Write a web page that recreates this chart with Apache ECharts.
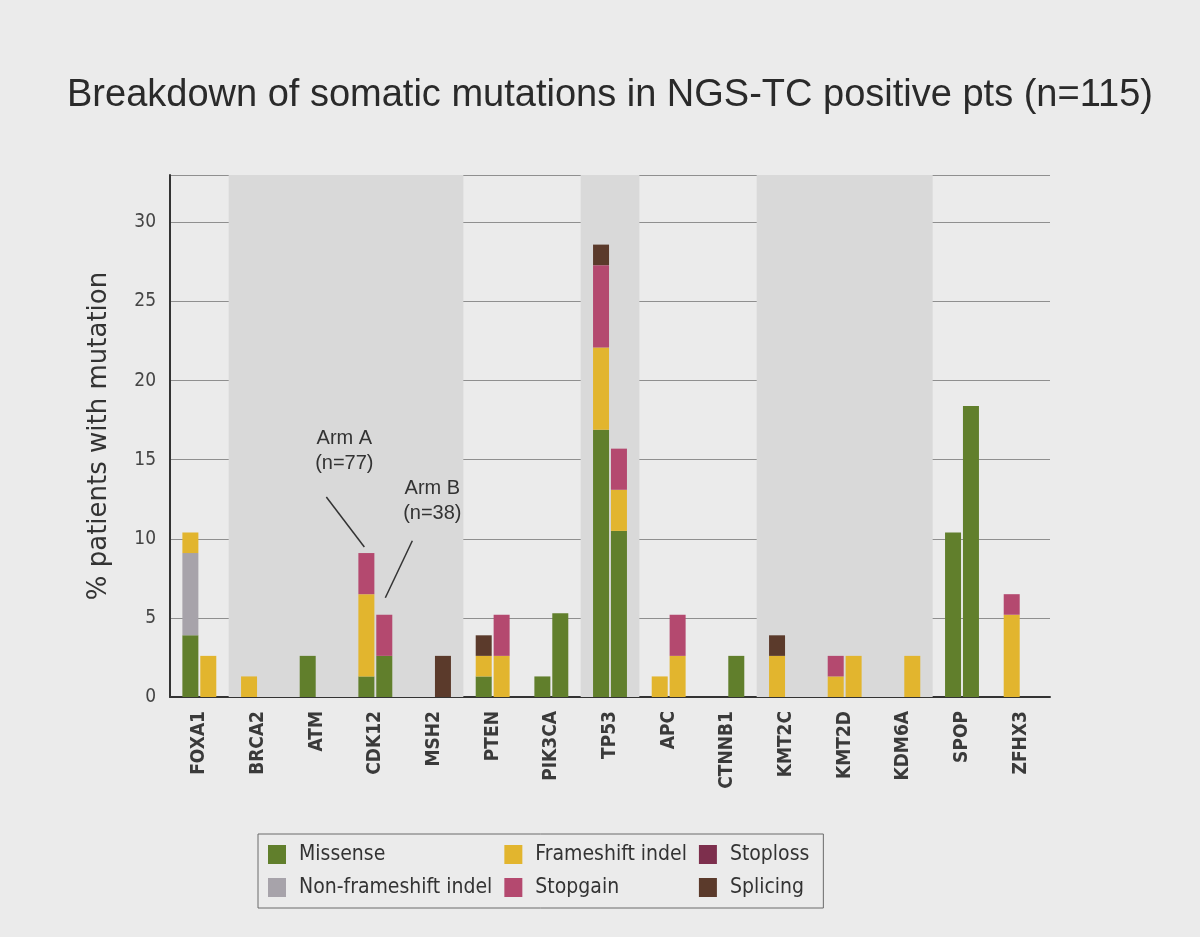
<!DOCTYPE html>
<html>
<head>
<meta charset="utf-8">
<script src="https://cdn.jsdelivr.net/npm/echarts@6/dist/echarts.min.js"></script>
<style>
  html, body { margin: 0; padding: 0; background: #ebebeb; }
  #chart { width: 1200px; height: 937px; }
</style>
</head>
<body>
<div id="chart"></div>
<script>
// genes on the x axis
var genes = ['FOXA1', 'BRCA2', 'ATM', 'CDK12', 'MSH2', 'PTEN', 'PIK3CA', 'TP53',
             'APC', 'CTNNB1', 'KMT2C', 'KMT2D', 'KDM6A', 'SPOP', 'ZFHX3'];

var mutationTypes = ['Missense', 'Non-frameshift indel', 'Frameshift indel', 'Stopgain', 'Stoploss', 'Splicing'];
var typeColors = ['#617f2c', '#a7a3aa', '#e2b52e', '#b4496f', '#7d2f4d', '#5b3a2b'];

// Arm A (n=77), % of patients
var missenseA    = [3.9, 0, 2.6, 1.3, 0, 1.3, 1.3, 16.9, 0, 0, 0, 0, 0, 10.4, 0];
var nonFrameA    = [5.2, 0, 0, 0, 0, 0, 0, 0, 0, 0, 0, 0, 0, 0, 0];
var frameshiftA  = [1.3, 1.3, 0, 5.2, 0, 1.3, 0, 5.2, 1.3, 0, 2.6, 1.3, 0, 0, 5.2];
var stopgainA    = [0, 0, 0, 2.6, 0, 0, 0, 5.2, 0, 0, 0, 1.3, 0, 0, 1.3];
var stoplossA    = [0, 0, 0, 0, 0, 0, 0, 0, 0, 0, 0, 0, 0, 0, 0];
var splicingA    = [0, 0, 0, 0, 0, 1.3, 0, 1.3, 0, 0, 1.3, 0, 0, 0, 0];

// Arm B (n=38), % of patients
var missenseB    = [0, 0, 0, 2.6, 0, 0, 5.3, 10.5, 0, 2.6, 0, 0, 0, 18.4, 0];
var nonFrameB    = [0, 0, 0, 0, 0, 0, 0, 0, 0, 0, 0, 0, 0, 0, 0];
var frameshiftB  = [2.6, 0, 0, 0, 0, 2.6, 0, 2.6, 2.6, 0, 0, 2.6, 2.6, 0, 0];
var stopgainB    = [0, 0, 0, 2.6, 0, 2.6, 0, 2.6, 2.6, 0, 0, 0, 0, 0, 0];
var stoplossB    = [0, 0, 0, 0, 0, 0, 0, 0, 0, 0, 0, 0, 0, 0, 0];
var splicingB    = [0, 0, 0, 0, 2.6, 0, 0, 0, 0, 0, 0, 0, 0, 0, 0];

// shaded gene groups, [first index, last index + 1]
var shadedBands = [[1, 5], [7, 8], [10, 13]];

var armA = [missenseA, nonFrameA, frameshiftA, stopgainA, stoplossA, splicingA];
var armB = [missenseB, nonFrameB, frameshiftB, stopgainB, stoplossB, splicingB];

var condensed = '"DejaVu Sans Condensed", "DejaVu Sans"';

function clean(arr) {
    return arr.map(function (v) { return v > 0 ? v : '-'; });
}

var chart = echarts.init(document.getElementById('chart'));

var series = [];
// hidden helper series that carries the grey background bands
series.push({
    type: 'line',
    xAxisIndex: 1,
    data: [],
    silent: true,
    z: 0,
    markArea: {
        silent: true,
        itemStyle: { color: '#d9d9d9' },
        data: shadedBands.map(function (b) { return [{ xAxis: b[0] }, { xAxis: b[1] }]; })
    }
});
for (var i = 0; i < mutationTypes.length; i++) {
    series.push({
        name: mutationTypes[i], type: 'bar', stack: 'A', z: 3,
        barWidth: 16, barGap: '12%',
        itemStyle: { color: typeColors[i] },
        data: clean(armA[i])
    });
}
for (var j = 0; j < mutationTypes.length; j++) {
    series.push({
        name: mutationTypes[j], type: 'bar', stack: 'B', z: 3,
        barWidth: 16, barGap: '12%',
        itemStyle: { color: typeColors[j] },
        data: clean(armB[j])
    });
}

var option = {
    backgroundColor: '#ebebeb',
    textStyle: { fontFamily: 'DejaVu Sans' },
    animation: false,
    title: {
        text: 'Breakdown of somatic mutations in NGS-TC positive pts (n=115)',
        left: 62, top: 72,
        textStyle: { fontFamily: 'Liberation Sans', fontSize: 38, fontWeight: 'normal', color: '#2a2a2a' }
    },
    grid: { left: 170, right: 150, top: 175, bottom: 240 },
    legend: {
        data: mutationTypes,
        orient: 'vertical',
        left: 258, top: 834,
        height: 58,
        itemWidth: 18, itemHeight: 19, itemGap: 12,
        padding: [10, 14, 10, 10],
        borderColor: '#6a6a6a', borderWidth: 1,
        icon: 'rect',
        textStyle: { fontSize: 21, color: '#333', fontFamily: condensed, padding: [0, 0, 0, 8] }
    },
    xAxis: [{
        type: 'category',
        data: genes,
        axisLine: { lineStyle: { color: '#333', width: 2 } },
        axisTick: { show: false },
        axisLabel: { rotate: 90, fontSize: 19, fontWeight: 'bold', fontFamily: condensed, color: '#3a3a3a', margin: 14 }
    }, {
        type: 'value', min: 0, max: genes.length, show: false
    }],
    yAxis: {
        type: 'value', min: 0, max: 33, interval: 5,
        name: '% patients with mutation',
        nameLocation: 'middle', nameGap: 58,
        nameTextStyle: { fontSize: 26, color: '#333' },
        axisLine: { show: true, lineStyle: { color: '#333', width: 2 } },
        axisTick: { show: false },
        axisLabel: { fontSize: 19, color: '#444', margin: 14, showMaxLabel: false, fontFamily: condensed },
        splitLine: { lineStyle: { color: '#8f8f8f', width: 1 } }
    },
    series: series
};
chart.setOption(option);

// annotation for the two arms, placed next to the CDK12 bars
function stackTotal(arms, idx) {
    var s = 0;
    arms.forEach(function (a) { s += a[idx]; });
    return s;
}
var k = genes.indexOf('CDK12');
var ptA = chart.convertToPixel({ xAxisIndex: 0, yAxisIndex: 0 }, [k, stackTotal(armA, k)]);
var ptB = chart.convertToPixel({ xAxisIndex: 0, yAxisIndex: 0 }, [k, stackTotal(armB, k)]);
if (ptA && ptB) {
    var ax = ptA[0] - 9, bx = ptB[0] + 9;
    var annoStyle = function (txt) {
        return { text: txt, fontSize: 20, fontFamily: 'Liberation Sans Narrow, Liberation Sans',
                 fill: '#333', align: 'center', lineHeight: 25 };
    };
    chart.setOption({
        graphic: [
            { type: 'text', x: ax - 22, y: ptA[1] - 127, z: 10, style: annoStyle('Arm A\n(n=77)') },
            { type: 'line', shape: { x1: ax - 40, y1: ptA[1] - 56, x2: ax - 2, y2: ptA[1] - 6 }, z: 10,
              style: { stroke: '#333', lineWidth: 1.5 } },
            { type: 'text', x: bx + 48, y: ptB[1] - 139, z: 10, style: annoStyle('Arm B\n(n=38)') },
            { type: 'line', shape: { x1: bx + 28, y1: ptB[1] - 74, x2: bx + 1, y2: ptB[1] - 17 }, z: 10,
              style: { stroke: '#333', lineWidth: 1.5 } }
        ]
    });
}
</script>
</body>
</html>
